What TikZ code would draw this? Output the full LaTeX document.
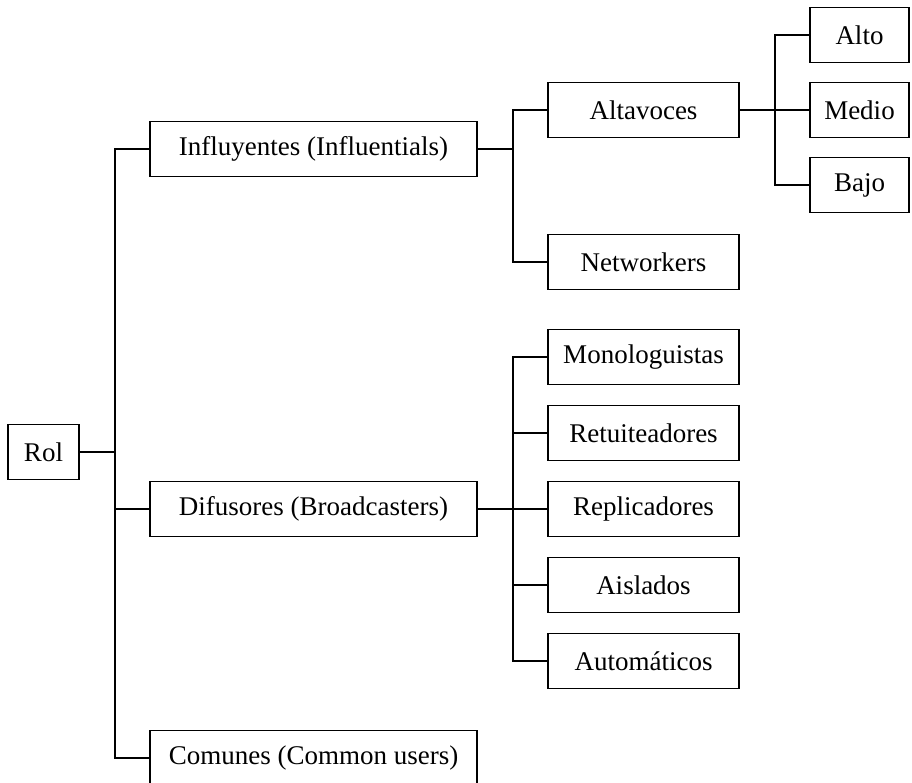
\documentclass[tikz,border=0pt]{standalone}
\usepackage{fontspec}
\setmainfont{Liberation Serif}
\usetikzlibrary{positioning}

\begin{document}
\begin{tikzpicture}[semithick,node distance=10.5pt,
            box/.style={draw,inner sep=0pt,outer sep=0pt,minimum height=27.5pt,
                font=\fontsize{13.5}{16}\selectfont},
            role node/.style={box,minimum width=35.5pt},
            main node/.style={box,minimum width=163.5pt},
            sub node/.style={box,minimum width=95.5pt},
            level node/.style={box,minimum width=49.5pt},
            tree edge/.style={to path={(\tikztostart.east) -- ++(18pt,0) |- (\tikztotarget.west)}}]

        \useasboundingbox (0,0) rectangle (456pt,-391.5pt);

        % Define vertices
        \node[role node] (rol) at (21.75pt,-226pt) {Rol};
        \node[main node] (difu) [right=35.5pt of rol, yshift=-28.5pt] {Difusores (Broadcasters)};
        \node[main node] (infl) [above=152.5pt of difu] {Influyentes (Influentials)};
        \node[main node] (comu) [below=97pt of difu] {Comunes (Common users)};

        \node[sub node] (alta) [right=35.5pt of infl, yshift=19.5pt] {Altavoces};
        \node[sub node] (netw) [below=48.5pt of alta] {Networkers};

        \node[sub node] (repl) [right=35.5pt of difu] {Replicadores};
        \node[sub node] (retu) [above=of repl] {Retuiteadores};
        \node[sub node] (mono) [above=of retu] {Monologuistas};
        \node[sub node] (aisl) [below=of repl] {Aislados};
        \node[sub node] (auto) [below=of aisl] {Automáticos};

        \node[level node] (medio) [right=35.5pt of alta] {Medio};
        \node[level node] (alto) [above=10pt of medio] {Alto};
        \node[level node] (bajo) [below=10pt of medio] {Bajo};

        % Draw edges
        \path[tree edge]
            (rol) edge (infl)
            (rol) edge (difu)
            (rol) edge (comu)
            (infl) edge (alta)
            (infl) edge (netw)
            (alta) edge (alto)
            (alta) edge (medio)
            (alta) edge (bajo)
            (difu) edge (mono)
            (difu) edge (retu)
            (difu) edge (repl)
            (difu) edge (aisl)
            (difu) edge (auto);

\end{tikzpicture}
\end{document}
